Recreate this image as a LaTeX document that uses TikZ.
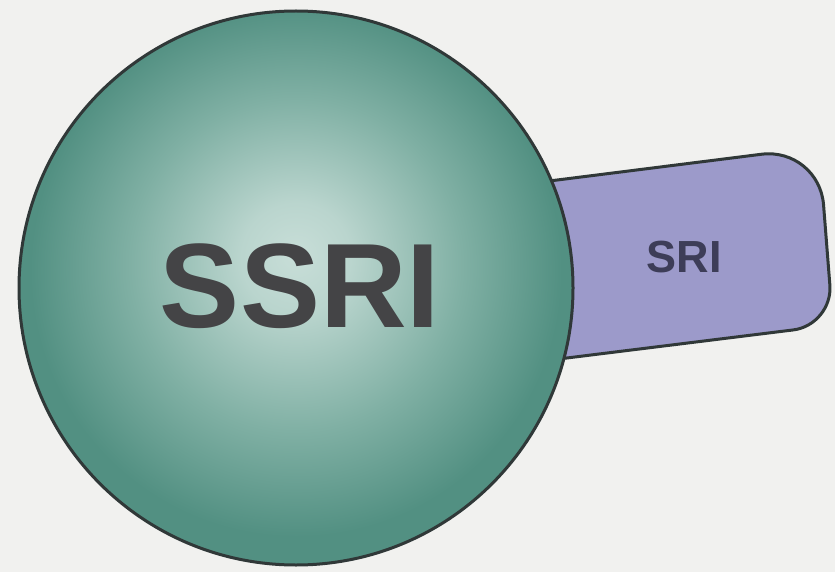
\documentclass[tikz,border=0pt]{standalone}
\usepackage{fontspec}
\setmainfont{Liberation Sans}
\usepackage{tikz}
\definecolor{paper}{RGB}{241,241,239}
\definecolor{sphlight}{RGB}{200,222,216}
\definecolor{sphmid}{RGB}{128,176,164}
\definecolor{sphdark}{RGB}{82,144,130}
\definecolor{tabfill}{RGB}{156,154,202}
\definecolor{edge}{RGB}{48,56,56}
\definecolor{ink}{RGB}{68,68,70}
\pgfdeclareradialshading{spherefill}{\pgfpoint{0bp}{3bp}}{color(0bp)=(sphlight); color(5bp)=(sphlight!80!sphmid); color(15bp)=(sphmid); color(24bp)=(sphdark); color(50bp)=(sphdark)}
\tikzset{outline/.style={draw=edge,line width=3pt,line join=round},
  bigtext/.style={text=ink,font=\bfseries\fontsize{120}{120}\selectfont,inner sep=0pt},
  smalltext/.style={text=ink!90!blue,font=\bfseries\fontsize{45}{45}\selectfont,inner sep=0pt}}

\begin{document}
\begin{tikzpicture}[x=1pt,y=-1pt]
\useasboundingbox[fill=paper] (0,0) rectangle (835,572);
\coordinate (C) at (296,288);
% the tab sticks out behind the sphere
\draw[outline,fill=tabfill] (470,191) [rounded corners=58pt] -- (819,147) [rounded corners=40pt] -- (833,325) -- (470,370) -- cycle;
\node[smalltext] (sri) at (684,257) {SRI};
\shade[shading=spherefill] (C) circle[radius=277];
\draw[outline] (C) circle[radius=277];
\node[bigtext] (ssri) at (300,286) {SSRI};
\end{tikzpicture}
\end{document}
